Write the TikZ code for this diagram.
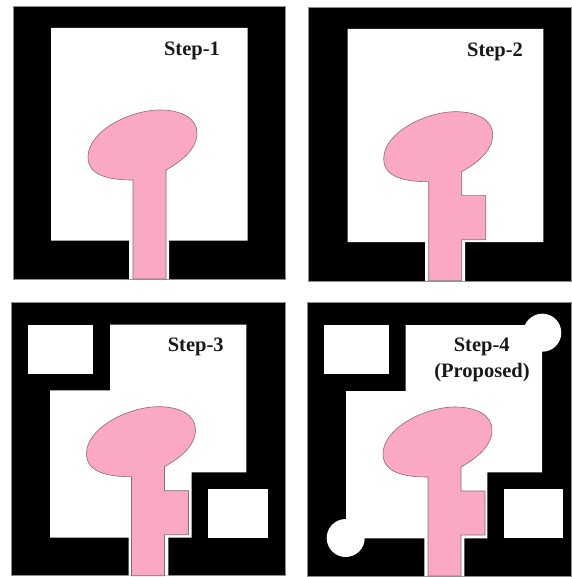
\documentclass[tikz,border=0pt]{standalone}
\usepackage{fontspec}
\setmainfont{Liberation Serif}
\definecolor{patchpink}{HTML}{FBA8C5}
\definecolor{patchedge}{HTML}{8A6A78}
\tikzset{
  board/.style={fill=black,draw=black!45,line width=0.5pt},
  cutout/.style={fill=white,draw=none},
  patchshape/.style={fill=patchpink,draw=patchedge,line width=0.6pt,line join=miter},
  steplabel/.style={font=\fontsize{20.5}{24}\selectfont\bfseries,inner sep=0pt,text=black!90}
}
% patch with a plain feed line
\newcommand{\plainpatch}[2]{%
  \draw[patchshape,shift={(#1,#2)}] (133,279) -- (133,180)
    .. controls (110,180) and (88,176) .. (88,157)
    .. controls (88,131) and (130,110) .. (160,110)
    .. controls (181,110) and (197,118) .. (197,133)
    .. controls (197,150) and (180,162) .. (166,170)
    -- (166,279) -- cycle;}
% patch with a side stub on the feed line
\newcommand{\stubpatch}[2]{%
  \draw[patchshape,shift={(#1,#2)}] (133,279) -- (133,180)
    .. controls (110,180) and (88,176) .. (88,157)
    .. controls (88,131) and (130,110) .. (160,110)
    .. controls (181,110) and (197,118) .. (197,133)
    .. controls (197,150) and (180,162) .. (166,170)
    -- (166,194) -- (190,194) -- (190,238) -- (166,238)
    -- (166,279) -- cycle;}
\begin{document}
\begin{tikzpicture}[x=1pt,y=-1pt]
\useasboundingbox (0,0) rectangle (571,577);
\fill[white] (0,0) rectangle (571,577);

% Step-1
\draw[board] (13,6) rectangle (285.7,279);
\fill[cutout] (51,28) -- (247.5,28) -- (247.5,240.5) -- (169,240.5) -- (169,279)
  -- (129,279) -- (129,240.5) -- (51,240.5) -- cycle;
\plainpatch{0}{0}
\node[steplabel] (s1) at (192,51) {Step-1};

% Step-2
\draw[board] (308.7,7) rectangle (571,281);
\fill[cutout] (347.7,29) -- (543.3,29) -- (543.3,242) -- (465,242) -- (465,281)
  -- (425,281) -- (425,242) -- (347.7,242) -- cycle;
\stubpatch{295.7}{1.7}
\node[steplabel] (s2) at (495,52) {Step-2};

% Step-3
\draw[board] (11,302.3) rectangle (285,575.7);
\fill[cutout] (110,324.7) -- (246.3,324.7) -- (246.3,472.3) -- (191.7,472.3)
  -- (191.7,537.7) -- (168.3,537.7) -- (168.3,575.7) -- (128.7,575.7) -- (128.7,537.7)
  -- (50,537.7) -- (50,390.3) -- (110,390.3) -- cycle;
\fill[cutout] (28.3,324.7) rectangle (93.3,373.7);
\fill[cutout] (208,489) rectangle (267.7,537.7);
\stubpatch{-1.5}{296.7}
\node[steplabel] (s3) at (195.7,347) {Step-3};

% Step-4
\draw[board] (307.3,302.7) rectangle (571,576);
\fill[cutout] (405.7,325) -- (542,325) -- (542,472.3) -- (487.3,472.3)
  -- (487.3,538.3) -- (464.3,538.3) -- (464.3,576) -- (424.3,576) -- (424.3,538.3)
  -- (346,538.3) -- (346,391) -- (405.7,391) -- cycle;
\fill[cutout] (324,325) rectangle (389.3,374.3);
\fill[cutout] (503.7,489.3) rectangle (563.3,538.3);
\fill[cutout] (542.3,332.7) circle (19);
\fill[cutout] (345.7,538) circle (19);
\stubpatch{295}{297}
\node[steplabel] (s4) at (481.7,347) {Step-4};
\node[steplabel] (s4b) at (482,373) {(Proposed)};
\end{tikzpicture}
\end{document}
